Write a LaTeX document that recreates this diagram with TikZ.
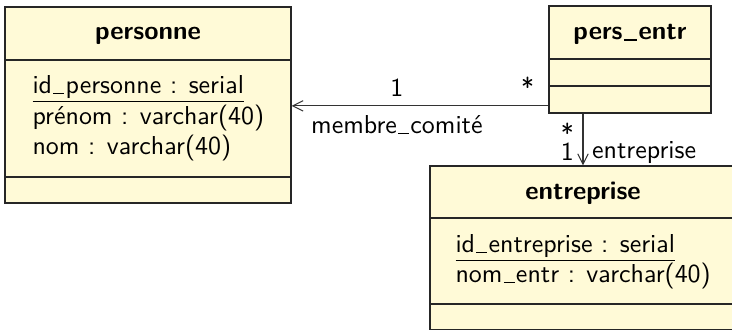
\documentclass[tikz,border=0pt]{standalone}
\usepackage{tikz}
\usetikzlibrary{arrows.meta, positioning, fit}

\definecolor{classfill}{RGB}{255,250,215}
% thin underscores drawn as rules
\newcommand{\us}{\kern.05em\rule[-0.5pt]{0.42em}{0.4pt}\kern.05em}
\newcommand{\usb}{\kern.05em\rule[-0.6pt]{0.52em}{0.75pt}\kern.05em}

\begin{document}
\begin{tikzpicture}[x=0.3855pt, y=-0.3855pt, font=\sffamily,
    classbox/.style={draw=black!85, fill=classfill, line width=0.5pt, inner sep=0pt},
    classname/.style={font=\sffamily\bfseries, anchor=base},
    attr/.style={anchor=base west, inner sep=0pt},
    sep/.style={draw=black!85, line width=0.5pt},
    assoc/.style={draw=black!80, line width=0.4pt, -{Straight Barb[length=4pt, width=4pt]}}]
    \useasboundingbox (0,0) rectangle (732,329);

    % Define classes
    \node[classbox, fit={(5,7) (291,203)}] (personne) {};
    \node[classbox, fit={(549,6) (711,113)}] (persentr) {};
    \node[classbox, fit={(430,166) (736,330)}] (entreprise) {};

    % Compartments
    \draw[sep] (personne.west |- 0,60) -- (personne.east |- 0,60);
    \draw[sep] (personne.west |- 0,177) -- (personne.east |- 0,177);
    \draw[sep] (persentr.west |- 0,59) -- (persentr.east |- 0,59);
    \draw[sep] (persentr.west |- 0,86) -- (persentr.east |- 0,86);
    \draw[sep] (entreprise.west |- 0,218) -- (entreprise.east |- 0,218);
    \draw[sep] (entreprise.west |- 0,304) -- (entreprise.east |- 0,304);

    % Class names and attributes
    \node[classname] (personne-name) at (148,39) {personne};
    \node[attr] (personne-id) at (32,93) {\underline{id\us personne : serial}};
    \node[attr] (personne-prenom) at (32,124) {prénom : varchar(40)};
    \node[attr] (personne-nom) at (32,154) {nom : varchar(40)};

    \node[classname] (persentr-name) at (630,39) {pers\usb entr};

    \node[classname] (entreprise-name) at (583,199) {entreprise};
    \node[attr] (entreprise-id) at (455,252) {\underline{id\us entreprise : serial}};
    \node[attr] (entreprise-nom) at (455,282) {nom\us entr : varchar(40)};

    % Add associations
    \coordinate (mc) at ([yshift=3pt]persentr.south west);
    \draw[assoc] (mc) -- node[pos=0, above left, xshift=-2pt] {*}
        node[pos=0.59, above] {1}
        node[pos=0.59, below] {membre\us comité} (mc -| personne.east);
    \draw[assoc] (entreprise.north |- persentr.south) -- node[pos=0, below left] {*}
        node[pos=1, above left, inner ysep=1.5pt] {1}
        node[pos=1, above right, inner ysep=0.5pt] {entreprise} (entreprise.north);
\end{tikzpicture}
\end{document}
